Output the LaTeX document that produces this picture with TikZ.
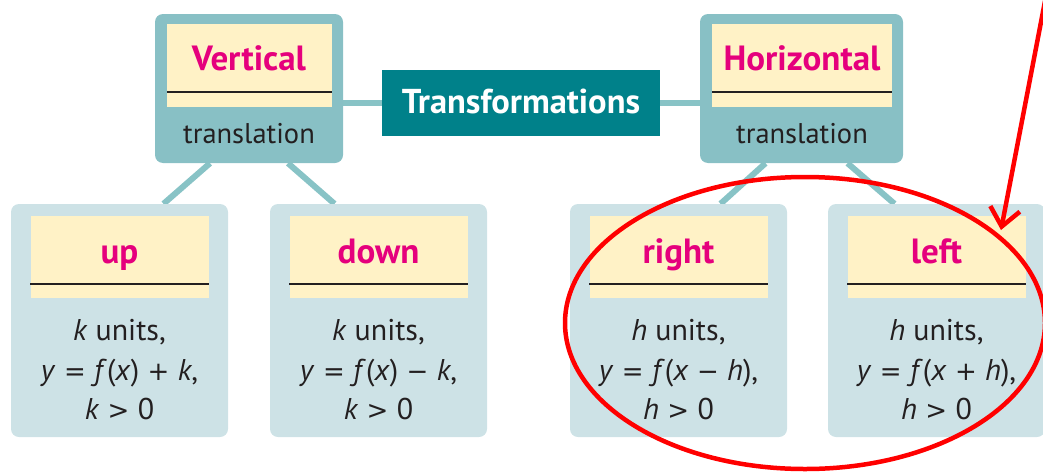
\documentclass[tikz,border=0pt]{standalone}
\usepackage{fontspec}
\setmainfont{PT Sans}
\newfontfamily\opfont{DejaVu Sans}
\usetikzlibrary{arrows.meta,backgrounds}
\definecolor{topfill}{HTML}{88C0C5}
\definecolor{botfill}{HTML}{CDE2E6}
\definecolor{yel}{HTML}{FFF2C6}
\definecolor{mag}{HTML}{E5007D}
\definecolor{teal2}{HTML}{00818A}
\definecolor{conncol}{HTML}{88C3C6}
\definecolor{dark}{HTML}{231F20}
\tikzset{
  topbox/.style={fill=topfill, rounded corners=8pt, minimum width=188pt, minimum height=149pt, inner sep=0pt},
  hbox/.style={topbox, minimum width=203pt},
  botbox/.style={fill=botfill, rounded corners=8pt, minimum width=217pt, minimum height=233pt, inner sep=0pt},
  topyel/.style={fill=yel, minimum height=83pt, inner sep=0pt},
  botyel/.style={fill=yel, minimum width=178pt, minimum height=82pt, inner sep=0pt},
  rule/.style={draw=dark, line width=2.2pt},
  head/.style={text=mag, font=\bfseries\fontsize{35}{40}\selectfont, inner sep=0pt, anchor=base},
  sub/.style={text=dark, font=\fontsize{28.5}{32}\selectfont, inner sep=0pt, anchor=base},
  body/.style={text=dark, font=\fontsize{30}{34}\selectfont, inner sep=0pt, anchor=base},
  title/.style={fill=teal2, text=white, minimum width=278pt, minimum height=66pt, inner sep=0pt},
  titletext/.style={text=white, font=\bfseries\fontsize{34.5}{40}\selectfont, inner sep=0pt, anchor=base},
  conn/.style={draw=conncol, line width=6pt},
  mark red/.style={draw=red, line width=4.5pt},
}
\newcommand{\mi}[1]{\textit{#1}}
\newcommand{\op}[1]{\hspace{0.28em}{\opfont\fontsize{26}{30}\selectfont #1}\hspace{0.28em}}
\begin{document}
\begin{tikzpicture}[x=1pt,y=-1pt]
\useasboundingbox (0,0) rectangle (1043,471);
% top boxes
\node[topbox] (V) at (249,88.5) {};
\node[topyel, minimum width=165pt] (Vy) at (249.5,65.5) {};
\draw[rule] (Vy.west |- 0,92) coordinate (vl1) -- (Vy.east |- 0,92) coordinate (vl2);
\node[head] (Vt) at (249,70) {Vertical};
\node[sub] (Vs) at (249,143) {translation};

\node[hbox] (H) at (801.5,88.5) {};
\node[topyel, minimum width=180pt] (Hy) at (802,65.5) {};
\draw[rule] (Hy.west |- 0,92) coordinate (hl1) -- (Hy.east |- 0,92) coordinate (hl2);
\node[head] (Ht) at (802,70) {Horizontal};
\node[sub] (Hs) at (802,143) {translation};

\node[title] (T) at (521,103) {};
\node[titletext] (Tt) at (521,113) {Transformations};

% bottom boxes
\foreach \nm/\cx/\hd/\la/\lb/\lc in {
  up/119.5/up/{\mi{k} units,}/{\mi{y}\op{=}\mi{f}(\mi{x})\op{+}\mi{k},}/{\mi{k}\op{>}0},
  down/378.5/down/{\mi{k} units,}/{\mi{y}\op{=}\mi{f}(\mi{x})\op{−}\mi{k},}/{\mi{k}\op{>}0},
  right/678.5/right/{\mi{h} units,}/{\mi{y}\op{=}\mi{f}(\mi{x}\op{−}\mi{h}),}/{\mi{h}\op{>}0},
  left/936.5/left/{\mi{h} units,}/{\mi{y}\op{=}\mi{f}(\mi{x}\op{+}\mi{h}),}/{\mi{h}\op{>}0}}{
  \node[botbox] (\nm) at (\cx,320.5) {};
  \node[botyel] (\nm y) at (\cx,257) {};
  \draw[rule] (\nm y.west |- 0,284) -- (\nm y.east |- 0,284);
  \node[head] (\nm t) at (\cx,263) {\hd};
  \node[body] (\nm b1) at (\cx,340) {\la};
  \node[body] (\nm b2) at (\cx,380) {\lb};
  \node[body] (\nm b3) at (\cx,419) {\lc};
}

\begin{scope}[on background layer]
  \draw[conn] (V.east |- T.west) -- (T.west);
  \draw[conn] (T.east) -- (H.west |- T.east);
  \draw[conn] ([xshift=-39pt]V.south) -- ([xshift=44pt]up.north);
  \draw[conn] ([xshift=39pt]V.south) -- ([xshift=-44pt]down.north);
  \draw[conn] ([xshift=-36pt]H.south) -- ([xshift=42pt]right.north);
  \draw[conn] ([xshift=46pt]H.south) -- ([xshift=-42pt]left.north);
\end{scope}

% red annotation
\draw[mark red] (805,323) ellipse [x radius=240, y radius=146];
\coordinate (a0) at (1046,-4);
\coordinate (tip) at (1001,230);
\draw[mark red, -{Straight Barb[length=18pt,width=30pt]}] (a0) -- (tip);
\end{tikzpicture}
\end{document}
